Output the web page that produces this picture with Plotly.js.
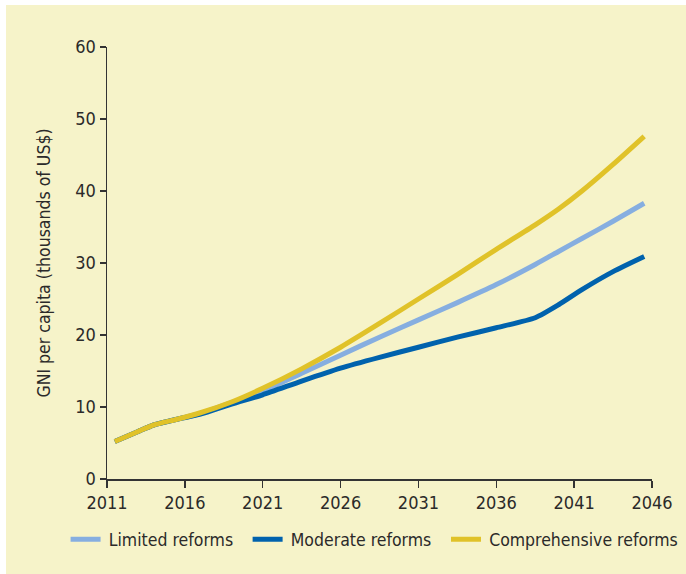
<!DOCTYPE html>
<html>
<head>
<meta charset="utf-8">
<script src="https://cdn.plot.ly/plotly-3.0.1.min.js"></script>
<style>
html,body{margin:0;padding:0;background:#ffffff;}
#chart{position:absolute;left:6px;top:5px;width:680px;height:569px;}
</style>
</head>
<body>
<div id="chart"></div>
<script>
var years = [2011.5, 2013, 2014, 2015.5, 2017, 2019, 2021, 2023.5, 2026, 2028.5, 2031, 2033.5, 2036, 2038.5, 2040, 2041.5, 2043.5, 2045.5];
var limited = [5.2, 6.6, 7.5, 8.3, 9.1, 10.6, 12.2, 14.7, 17.2, 19.7, 22.1, 24.5, 27.0, 29.8, 31.6, 33.4, 35.8, 38.3];
var moderate = [5.2, 6.6, 7.5, 8.3, 9.0, 10.4, 11.7, 13.6, 15.4, 16.9, 18.3, 19.7, 21.0, 22.4, 24.2, 26.3, 28.8, 30.9];
var comprehensive = [5.2, 6.6, 7.5, 8.3, 9.2, 10.7, 12.6, 15.3, 18.3, 21.6, 25.0, 28.4, 31.9, 35.3, 37.5, 40.0, 43.7, 47.6];
var seriesNames = ['Limited reforms', 'Moderate reforms', 'Comprehensive reforms'];
var seriesColors = ['#86aee0', '#0062ad', '#e0c229'];
var xTicks = [2011, 2016, 2021, 2026, 2031, 2036, 2041, 2046];
var yTicks = [0, 10, 20, 30, 40, 50, 60];

var font = 'DejaVu Sans Condensed, Liberation Sans Narrow, Noto Sans, sans-serif';
var legendIds = ['legend', 'legend2', 'legend3'];
var legendX = [-0.076, 0.258, 0.622];
var data = [limited, moderate, comprehensive].map(function(v, i){
  return {x: years, y: v, name: '\u2009' + seriesNames[i], type: 'scatter', mode: 'lines', legend: legendIds[i],
    line: {color: seriesColors[i], width: 5, shape: 'spline', smoothing: 0.6}};
});
var layout = {
  width: 680, height: 569,
  paper_bgcolor: '#f6f3c9', plot_bgcolor: '#f6f3c9',
  margin: {l: 101, r: 34, t: 42, b: 95, autoexpand: false},
  font: {family: font, size: 18, color: '#2b2a29'},
  showlegend: true,
  xaxis: {range: [2011, 2046], tickvals: xTicks, ticktext: xTicks.map(String), showgrid: false, zeroline: false,
    showline: true, linecolor: '#333', linewidth: 1.5, ticks: 'outside', ticklen: 7, tickcolor: '#333', tickwidth: 1.5,
    tickfont: {family: font, size: 18, color: '#2b2a29'}},
  yaxis: {range: [0, 60], tickvals: yTicks, showgrid: false, zeroline: false,
    showline: true, linecolor: '#333', linewidth: 1.5, ticks: 'outside', ticklen: 6, tickcolor: '#333', tickwidth: 1.5,
    tickfont: {family: font, size: 18, color: '#2b2a29'},
    title: {text: 'GNI per capita (thousands of US$)', font: {family: font, size: 17.5, color: '#2b2a29'}, standoff: 20}}
};
legendIds.forEach(function(id, i){
  layout[id] = {orientation: 'h', x: legendX[i], xanchor: 'left', y: -0.14, yanchor: 'middle',
    font: {family: font, size: 17.5, color: '#2b2a29'}, bgcolor: 'rgba(0,0,0,0)'};
});
Plotly.newPlot('chart', data, layout, {displayModeBar: false, staticPlot: true});
</script>
</body>
</html>
